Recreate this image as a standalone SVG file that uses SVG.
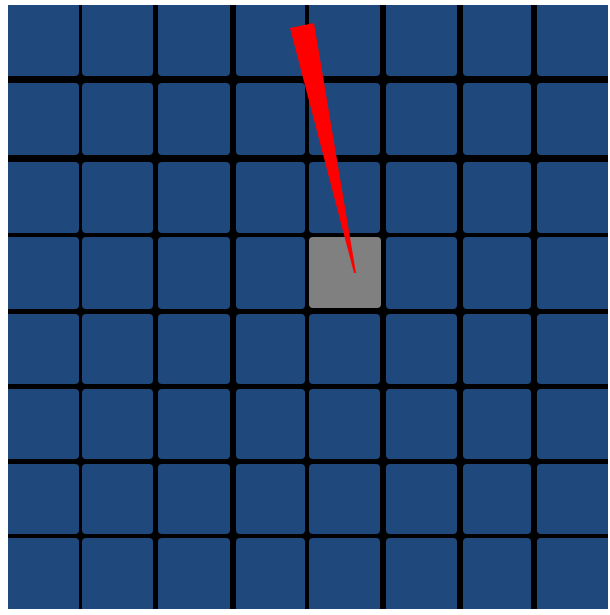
<svg xmlns="http://www.w3.org/2000/svg" width="610" height="615" viewBox="0 0 610 615">
<defs>
<style>
.t{fill:#1f487c}
.g{fill:#808080}
</style>
<clipPath id="c"><rect x="8" y="5" width="600" height="604"/></clipPath>
</defs>
<rect width="610" height="615" fill="#fff"/>
<g clip-path="url(#c)">
<rect x="8" y="5" width="600" height="604" fill="#000"/>
<g id="tiles">
<!-- columns: 4-79,82-153,158-230,236-305,309-380,386-457,463-531,537-612 ; rows: 1-76,83-155,162-233,237-309,314-384,389-459,464-534,538-613 -->
<g id="row0">
<rect class="t" x="4" y="1" width="75" height="75" rx="4"/><rect class="t" x="82" y="1" width="71" height="75" rx="4"/><rect class="t" x="158" y="1" width="72" height="75" rx="4"/><rect class="t" x="236" y="1" width="69" height="75" rx="4"/><rect class="t" x="309" y="1" width="71" height="75" rx="4"/><rect class="t" x="386" y="1" width="71" height="75" rx="4"/><rect class="t" x="463" y="1" width="68" height="75" rx="4"/><rect class="t" x="537" y="1" width="75" height="75" rx="4"/>
</g>
<g id="row1">
<rect class="t" x="4" y="83" width="75" height="72" rx="4"/><rect class="t" x="82" y="83" width="71" height="72" rx="4"/><rect class="t" x="158" y="83" width="72" height="72" rx="4"/><rect class="t" x="236" y="83" width="69" height="72" rx="4"/><rect class="t" x="309" y="83" width="71" height="72" rx="4"/><rect class="t" x="386" y="83" width="71" height="72" rx="4"/><rect class="t" x="463" y="83" width="68" height="72" rx="4"/><rect class="t" x="537" y="83" width="75" height="72" rx="4"/>
</g>
<g id="row2">
<rect class="t" x="4" y="162" width="75" height="71" rx="4"/><rect class="t" x="82" y="162" width="71" height="71" rx="4"/><rect class="t" x="158" y="162" width="72" height="71" rx="4"/><rect class="t" x="236" y="162" width="69" height="71" rx="4"/><rect class="t" x="309" y="162" width="71" height="71" rx="4"/><rect class="t" x="386" y="162" width="71" height="71" rx="4"/><rect class="t" x="463" y="162" width="68" height="71" rx="4"/><rect class="t" x="537" y="162" width="75" height="71" rx="4"/>
</g>
<g id="row3">
<rect class="t" x="4" y="237" width="75" height="72" rx="4"/><rect class="t" x="82" y="237" width="71" height="72" rx="4"/><rect class="t" x="158" y="237" width="72" height="72" rx="4"/><rect class="t" x="236" y="237" width="69" height="72" rx="4"/><rect id="selected" class="g" x="309" y="237" width="72" height="71" rx="4"/><rect class="t" x="386" y="237" width="71" height="72" rx="4"/><rect class="t" x="463" y="237" width="68" height="72" rx="4"/><rect class="t" x="537" y="237" width="75" height="72" rx="4"/>
</g>
<g id="row4">
<rect class="t" x="4" y="314" width="75" height="70" rx="4"/><rect class="t" x="82" y="314" width="71" height="70" rx="4"/><rect class="t" x="158" y="314" width="72" height="70" rx="4"/><rect class="t" x="236" y="314" width="69" height="70" rx="4"/><rect class="t" x="309" y="314" width="71" height="70" rx="4"/><rect class="t" x="386" y="314" width="71" height="70" rx="4"/><rect class="t" x="463" y="314" width="68" height="70" rx="4"/><rect class="t" x="537" y="314" width="75" height="70" rx="4"/>
</g>
<g id="row5">
<rect class="t" x="4" y="389" width="75" height="70" rx="4"/><rect class="t" x="82" y="389" width="71" height="70" rx="4"/><rect class="t" x="158" y="389" width="72" height="70" rx="4"/><rect class="t" x="236" y="389" width="69" height="70" rx="4"/><rect class="t" x="309" y="389" width="71" height="70" rx="4"/><rect class="t" x="386" y="389" width="71" height="70" rx="4"/><rect class="t" x="463" y="389" width="68" height="70" rx="4"/><rect class="t" x="537" y="389" width="75" height="70" rx="4"/>
</g>
<g id="row6">
<rect class="t" x="4" y="464" width="75" height="70" rx="4"/><rect class="t" x="82" y="464" width="71" height="70" rx="4"/><rect class="t" x="158" y="464" width="72" height="70" rx="4"/><rect class="t" x="236" y="464" width="69" height="70" rx="4"/><rect class="t" x="309" y="464" width="71" height="70" rx="4"/><rect class="t" x="386" y="464" width="71" height="70" rx="4"/><rect class="t" x="463" y="464" width="68" height="70" rx="4"/><rect class="t" x="537" y="464" width="75" height="70" rx="4"/>
</g>
<g id="row7">
<rect class="t" x="4" y="538" width="75" height="75" rx="4"/><rect class="t" x="82" y="538" width="71" height="75" rx="4"/><rect class="t" x="158" y="538" width="72" height="75" rx="4"/><rect class="t" x="236" y="538" width="69" height="75" rx="4"/><rect class="t" x="309" y="538" width="71" height="75" rx="4"/><rect class="t" x="386" y="538" width="71" height="75" rx="4"/><rect class="t" x="463" y="538" width="68" height="75" rx="4"/><rect class="t" x="537" y="538" width="75" height="75" rx="4"/>
</g>
</g>
</g>
<g id="needle">
<polygon points="290,28 314,23 356,273 354,273" fill="#ff0000"/>
</g>
</svg>
